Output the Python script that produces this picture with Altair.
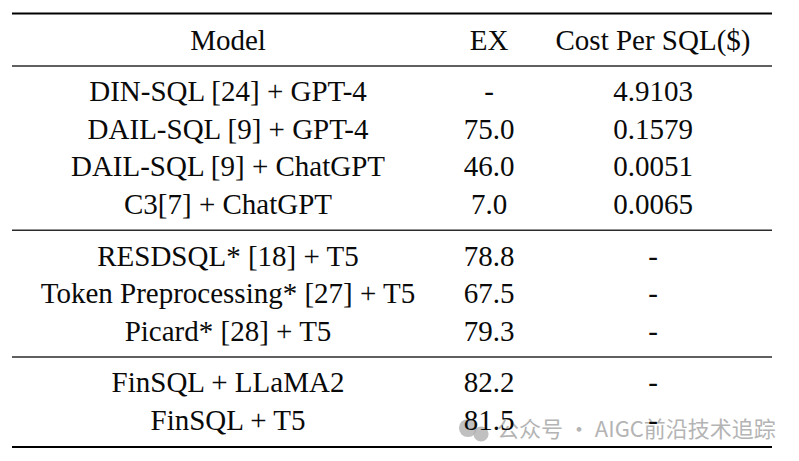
import altair as alt
import pandas as pd

headers = ["Model", "EX", "Cost Per SQL($)"]
models = [
    "DIN-SQL [24] + GPT-4",
    "DAIL-SQL [9] + GPT-4",
    "DAIL-SQL [9] + ChatGPT",
    "C3[7] + ChatGPT",
    "RESDSQL* [18] + T5",
    "Token Preprocessing* [27] + T5",
    "Picard* [28] + T5",
    "FinSQL + LLaMA2",
    "FinSQL + T5",
]
ex = ["-", "75.0", "46.0", "7.0", "78.8", "67.5", "79.3", "82.2", "81.5"]
cost = ["4.9103", "0.1579", "0.0051", "0.0065", "-", "-", "-", "-", "-"]
groups = [1, 1, 1, 1, 2, 2, 2, 3, 3]
watermark = "公众号 · AIGC前沿技术追踪"

GAP = 0.38  # extra row space between groups

cells = []
for c, h in enumerate(headers):
    cells.append({"col": c, "s": 0.0, "text": h})
for i, (m, e, co, g) in enumerate(zip(models, ex, cost, groups), start=1):
    s = i + g * GAP
    cells.append({"col": 0, "s": s, "text": m})
    cells.append({"col": 1, "s": s, "text": e})
    cells.append({"col": 2, "s": s, "text": co})
cells = pd.DataFrame(cells)

# rules: below header, after last row of each group; top rule
last_slots = [0.0]
for g in sorted(set(groups)):
    idx = max(i for i, gg in enumerate(groups, start=1) if gg == g)
    last_slots.append(idx + g * GAP)
light = pd.DataFrame({"s": [v + 0.44 for v in last_slots[:-1]]})
heavy = pd.DataFrame({"s": [-0.96, last_slots[-1] + 0.46]})

yscale = alt.Scale(domain=[-1.1067, 10.76], reverse=True, nice=False, zero=False)
Y = alt.Y("s:Q", scale=yscale, axis=None)
xscale = alt.Scale(domain=[0, 1, 2], range=[220, 481, 645], nice=False, zero=False)

text = alt.Chart(cells).mark_text(
    font="Liberation Serif", fontSize=29, baseline="alphabetic", align="center", color="#0a0a0a"
).encode(
    x=alt.X("col:Q", scale=xscale, axis=None),
    y=Y,
    text="text:N",
)

rule_light = alt.Chart(light).mark_rule(color="#2b2b2b", strokeWidth=1.4).encode(
    x=alt.value(4), x2=alt.value(764), y=Y
)
rule_heavy = alt.Chart(heavy).mark_rule(color="#000000", strokeWidth=2.2).encode(
    x=alt.value(4), x2=alt.value(764), y=Y
)

wm_df = pd.DataFrame({"t": [watermark]})
wm = alt.Chart(wm_df).mark_text(
    font="Noto Sans CJK SC", fontSize=22, align="left", baseline="middle",
    color="#a8a8a8", opacity=0.85
).encode(x=alt.value(489), y=alt.value(422), text="t:N")

icon_df = pd.DataFrame({"k": ["a", "b"], "px": [460, 473], "py": [420, 426], "sz": [330, 230]})
icon = alt.Chart(icon_df).mark_circle(color="#b0b0b0", opacity=0.8).encode(
    x=alt.X("px:Q", scale=alt.Scale(domain=[0, 783], range=[0, 783]), axis=None),
    y=alt.Y("py:Q", scale=alt.Scale(domain=[0, 445], range=[0, 445]), axis=None),
    size=alt.Size("sz:Q", scale=None, legend=None),
)

base = alt.layer(rule_light, rule_heavy, text)
chart = alt.layer(alt.layer(icon, wm), base).resolve_scale(x="independent", y="independent").properties(
    width=783, height=445, padding=0,
    autosize=alt.AutoSizeParams(type="fit", contains="padding"),
    background="white",
).configure_view(stroke=None)

chart.save("out.html", embed_options={"renderer": "svg", "actions": False})
